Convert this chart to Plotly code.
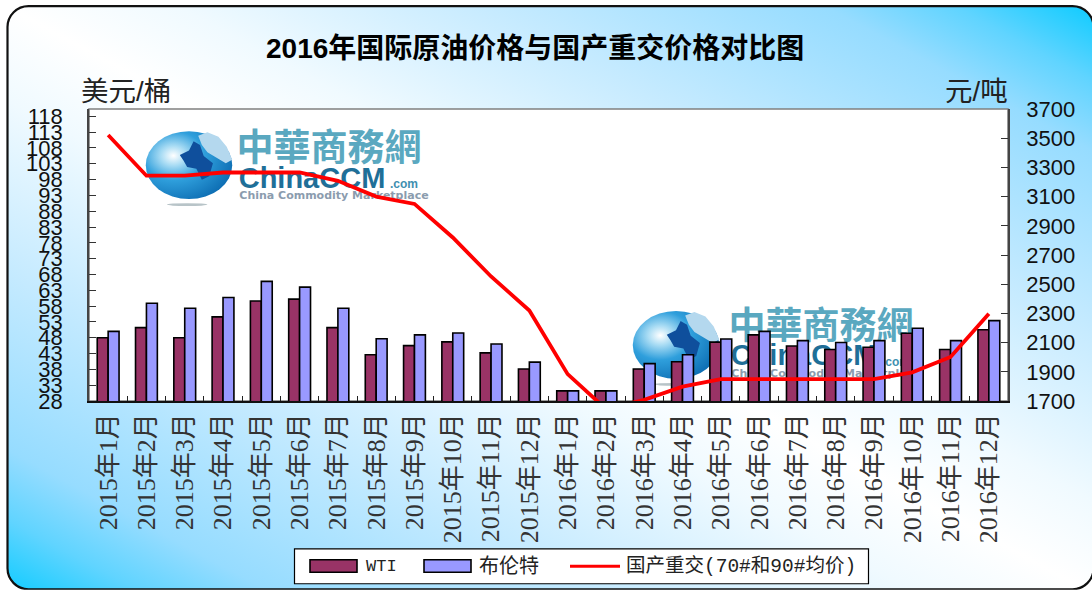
import base64
import plotly.graph_objects as go

# ---- data ----
months = ["2015年%d月" % m for m in range(1, 13)] + ["2016年%d月" % m for m in range(1, 13)]
wti = [48, 51.2, 48, 54.6, 59.6, 60.2, 51.2, 42.6, 45.5, 46.7, 43.2, 38.1,
       31.2, 31.2, 38.1, 40.4, 46.6, 48.9, 45.4, 44.3, 45, 49.4, 44.3, 50.5]
brent = [50, 58.9, 57.3, 60.7, 65.8, 64, 57.3, 47.7, 48.9, 49.5, 46, 40.3,
         31.2, 31.2, 39.8, 42.6, 47.6, 50, 47.1, 46.5, 47.1, 51, 47.1, 53.4]
domestic = [3522, 3243, 3243, 3265, 3265, 3265, 3208, 3100, 3050, 2820, 2553, 2320,
            1884, 1645, 1708, 1798, 1850, 1850, 1850, 1850, 1850, 1896, 2002, 2298]
left_ticks = list(range(28, 119, 5))
right_ticks = list(range(1700, 3701, 200))
series_names = ["WTI", "布伦特", "国产重交(70#和90#均价)"]
title_text = "2016年国际原油价格与国产重交价格对比图"
left_unit = "美元/桶"
right_unit = "元/吨"
logo_cn = "中華商務網"
logo_en = "ChinaCCM"
logo_dot = ".com"
logo_sub = "China Commodity Marketplace"

W, H = 1092, 590
L, R, T, B = 89, 1008, 108.6, 401
SANS = "Liberation Sans, Noto Sans CJK SC"
MIXED = "Liberation Serif, Noto Sans CJK SC"
MONO = "Liberation Mono, Noto Sans CJK SC"


def px(x):
    return (x - L) / (R - L)


def py(y):
    return (B - y) / (B - T)


def data_uri(svg):
    return "data:image/svg+xml;base64," + base64.b64encode(svg.encode()).decode()


bg_svg = f'''<svg xmlns="http://www.w3.org/2000/svg" width="{W}" height="{H}" viewBox="0 0 {W} {H}">
<defs><linearGradient id="g" gradientUnits="userSpaceOnUse" x1="302" y1="749" x2="790" y2="-153">
<stop offset="0" stop-color="#14ccff"/><stop offset="0.06" stop-color="#60d4ff"/><stop offset="0.12" stop-color="#96dcff"/>
<stop offset="0.27" stop-color="#c4eaff"/><stop offset="0.42" stop-color="#f0faff"/><stop offset="0.5" stop-color="#ffffff"/>
<stop offset="0.58" stop-color="#f0faff"/><stop offset="0.73" stop-color="#c4eaff"/><stop offset="0.88" stop-color="#96dcff"/>
<stop offset="0.94" stop-color="#60d4ff"/><stop offset="1" stop-color="#14ccff"/>
</linearGradient></defs>
<rect width="{W}" height="{H}" fill="#ffffff"/>
<rect x="7.5" y="5.5" width="1086" height="584" rx="21" ry="21" fill="url(#g)" stroke="#111" stroke-width="2.2"/>
</svg>'''

globe_svg = '''<svg xmlns="http://www.w3.org/2000/svg" width="200" height="170" viewBox="0 0 100 85">
<defs><radialGradient id="b" cx="0.32" cy="0.36" r="0.72">
<stop offset="0" stop-color="#ffffff"/><stop offset="0.2" stop-color="#a9dcf4"/><stop offset="0.5" stop-color="#2f9fdc"/><stop offset="1" stop-color="#0e6fb4"/>
</radialGradient></defs>
<ellipse cx="50" cy="38" rx="47" ry="37" fill="url(#b)"/>
<path d="M60 6 L70 2 L82 7 L91 18 L97 32 L90 36 L80 30 L70 24 L64 16 Z" fill="#b4d8ee"/>
<path d="M40 27 L50 22 L55 12 L62 16 L66 28 L76 36 L72 50 L64 54 L58 42 L48 40 L44 33 Z" fill="#0f4f9c"/>
<ellipse cx="48" cy="81" rx="22" ry="1.6" fill="#b8c4c8"/>
</svg>'''

fig = go.Figure()

# logo layer (lowest subplot): real text placed in pixel-like axis coordinates
for dx, dy in [(0, 0), (492, 178)]:
    for label, x, y, size, col, fam in [
        (logo_cn, 329, 151.5, 37, "#5aa8c0", "Noto Sans CJK TC"),
        (logo_en, 312, 180, 29, "#1f6f98", "Liberation Sans Narrow, Liberation Sans"),
        (logo_dot, 404, 185, 12, "#3f8fb0", "Liberation Sans"),
        (logo_sub, 334, 196, 11, "#8b9cae", "DejaVu Sans"),
    ]:
        fig.add_trace(go.Scatter(
            x=[x + dx], y=[y + dy], mode="text", text=[label], showlegend=False, hoverinfo="skip",
            textfont=dict(size=size, color=col, family=fam, weight="bold"),
            xaxis="x", yaxis="y", cliponaxis=False))

fig.add_trace(go.Bar(x=months, y=wti, name=series_names[0], marker=dict(color="#993366", line=dict(color="#000", width=1.6)),
                     xaxis="x2", yaxis="y2", showlegend=False))
fig.add_trace(go.Bar(x=months, y=brent, name=series_names[1], marker=dict(color="#9999ff", line=dict(color="#000", width=1.6)),
                     xaxis="x2", yaxis="y2", showlegend=False))
fig.add_trace(go.Scatter(x=months, y=domestic, name=series_names[2], mode="lines", line=dict(color="#ff0000", width=3.8),
                         xaxis="x2", yaxis="y3", showlegend=False))

images = [dict(source=data_uri(bg_svg), xref="paper", yref="paper", x=px(0), y=py(0), sizex=W / (R - L), sizey=H / (B - T),
               sizing="stretch", xanchor="left", yanchor="top", layer="below")]
for cx, cy in [(143, 130), (630, 310)]:
    images.append(dict(source=data_uri(globe_svg), xref="x", yref="y", x=cx, y=cy, sizex=92, sizey=78,
                       sizing="stretch", xanchor="left", yanchor="top", layer="below"))

shapes = [
    dict(type="rect", xref="paper", yref="paper", x0=0, x1=1, y0=0, y1=1, fillcolor="#fff",
         line=dict(color="#808080", width=1.6), layer="below"),
    # legend box
    dict(type="rect", xref="paper", yref="paper", x0=px(294.5), x1=px(868.5), y0=py(584), y1=py(549),
         fillcolor="#fff", line=dict(color="#000", width=1.2)),
    dict(type="rect", xref="paper", yref="paper", x0=px(310), x1=px(357), y0=py(572.5), y1=py(560),
         fillcolor="#993366", line=dict(color="#000", width=1.6)),
    dict(type="rect", xref="paper", yref="paper", x0=px(424), x1=px(471), y0=py(572.5), y1=py(560),
         fillcolor="#9999ff", line=dict(color="#000", width=1.6)),
    dict(type="line", xref="paper", yref="paper", x0=px(570), x1=px(620), y0=py(566.5), y1=py(566.5),
         line=dict(color="#ff0000", width=3.2)),
]


def note(text, x, y, size, family=SANS, anchor="center", weight="normal", color="#1a1a1a"):
    return dict(text=text, xref="paper", yref="paper", x=px(x), y=py(y), showarrow=False, xanchor=anchor, yanchor="middle",
                font=dict(size=size, family=family, color=color, weight=weight))


annotations = [
    note(title_text, 535, 48, 28, weight="bold", color="#000"),
    note(left_unit, 126, 91, 27.5, color="#222"),
    note(right_unit, 976, 91, 27.5, color="#222"),
    note(series_names[0], 364, 567, 17, MONO, "left", color="#222"),
    note(series_names[1], 477, 567, 20, MONO, "left", color="#222"),
    note(series_names[2], 624, 567, 19.5, MONO, "left", color="#222"),
]

fig.update_layout(
    width=W, height=H, margin=dict(l=L, r=W - R, t=T, b=H - B, pad=0, autoexpand=False),
    paper_bgcolor="#fff", plot_bgcolor="rgba(0,0,0,0)", barmode="group", bargap=0.43, bargroupgap=0,
    showlegend=False, images=images, shapes=shapes, annotations=annotations,
    xaxis=dict(visible=False, range=[L, R], fixedrange=True),
    yaxis=dict(visible=False, range=[B, T], fixedrange=True),
    xaxis2=dict(overlaying="x", anchor="y2", type="category", categoryorder="array", categoryarray=months, side="bottom",
                tickmode="array", tickvals=months, ticktext=months, tickangle=-90, tickson="boundaries", ticks="inside", ticklen=5,
                tickcolor="#222", tickwidth=1, showline=True, linecolor="#111", linewidth=1.6, showgrid=False,
                ticklabelstandoff=0, tickfont=dict(family=MIXED, size=26, color="#333")),
    yaxis2=dict(overlaying="y", anchor="x2", side="left", range=[28, 120.3], tickmode="array", tickvals=left_ticks,
                ticks="inside", ticklen=7, tickcolor="#333", tickwidth=1, showline=True, linecolor="#444", linewidth=1.6, showgrid=False,
                zeroline=False, ticklabelstandoff=20, tickfont=dict(family=SANS, size=22, color="#111")),
    yaxis3=dict(overlaying="y", anchor="x2", side="right", range=[1700, 3700], tickmode="array", tickvals=right_ticks,
                ticks="inside", ticklen=7, tickcolor="#333", tickwidth=1, showline=True, linecolor="#444", linewidth=1.6, showgrid=False,
                zeroline=False, ticklabelstandoff=12, tickfont=dict(family=SANS, size=22, color="#111")),
)

fig.write_html("out.html", config=dict(displayModeBar=False),
               post_script="document.body.style.margin='0';document.documentElement.style.overflow='hidden';")
